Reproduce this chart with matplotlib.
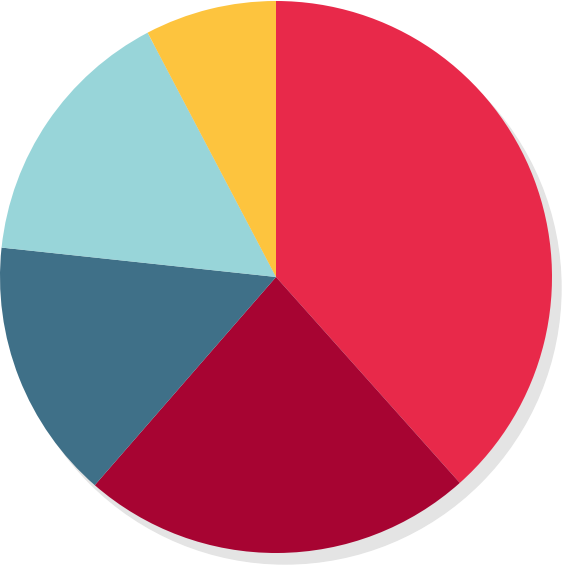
import matplotlib.pyplot as plt
from matplotlib.patches import Circle

shares = [38.4, 23.0, 15.3, 15.6, 7.7]
colors = ["#E8294A", "#A70432", "#3F7088", "#98D5D9", "#FDC43E"]

fig = plt.figure(figsize=(5.64, 5.69), dpi=100)
ax = fig.add_axes([0, 0, 1, 1])
px = 276.0
ax.set_xlim(-276 / px, (564 - 276) / px)
ax.set_ylim(-(569 - 277) / px, 277 / px)
ax.set_aspect("equal")
ax.axis("off")

# soft drop shadow
ax.add_patch(Circle((9 / px, -11 / px), 1.0, color="#E4E4E4", zorder=0))

ax.pie(shares, colors=colors, startangle=90, counterclock=False,
       radius=1.0, wedgeprops=dict(linewidth=0))
ax.set_xlim(-276 / px, (564 - 276) / px)
ax.set_ylim(-(569 - 277) / px, 277 / px)

fig.savefig("out.png", dpi=100)
